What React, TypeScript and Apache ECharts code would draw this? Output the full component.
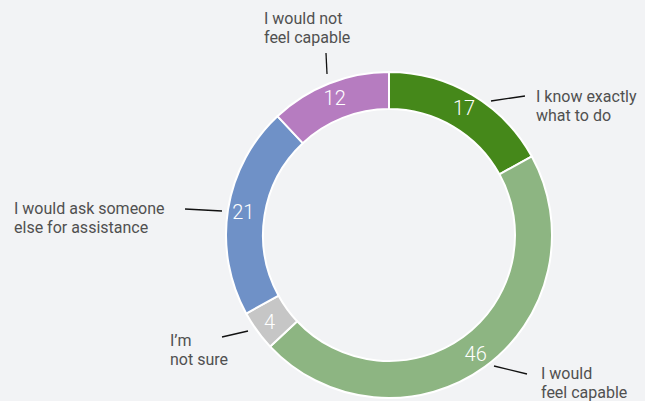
import React, { useEffect, useRef } from "react";
import * as echarts from "echarts";

const categories = [
  "I know exactly\nwhat to do",
  "I would\nfeel capable",
  "I’m\nnot sure",
  "I would ask someone\nelse for assistance",
  "I would not\nfeel capable",
];
const values = [17, 46, 4, 21, 12];
const colors = ["#45881a", "#8db582", "#c6c6c6", "#6f91c7", "#b67cc0"];

// label placement relative to the pie centre: line start, line end, text anchor
const labelSpecs = [
  { line: [[102, -134], [136, -139]], text: [147, -129] },
  { line: [[105, 131], [138, 139]], text: [152, 148] },
  { line: [[-141, 96], [-167, 102]], text: [-219, 115] },
  { line: [[-167, -24], [-204, -26]], text: [-375, -17] },
  { line: [[-62, -161], [-63, -182]], text: [-125, -207] },
];

const CX = 389;
const CY = 235;

export default function App() {
  const ref = useRef<HTMLDivElement>(null);
  useEffect(() => {
    if (!ref.current) return;
    const chart = echarts.init(ref.current, null, { renderer: "svg" });
    const data = categories.map((name, i) => ({
      name,
      value: values[i],
      itemStyle: { color: colors[i] },
    }));
    chart.setOption({
      animation: false,
      backgroundColor: "#f2f3f5",
      series: [
        {
          type: "pie",
          center: [CX, CY],
          radius: [126, 163],
          startAngle: 90,
          avoidLabelOverlap: false,
          itemStyle: { borderColor: "#ffffff", borderWidth: 2 },
          label: {
            show: true,
            position: "inside",
            formatter: "{c}",
            color: "#ffffff",
            fontFamily: "Roboto",
            fontWeight: 300,
            fontSize: 20,
          },
          labelLine: { show: false },
          data,
        },
        {
          type: "pie",
          center: [CX, CY],
          radius: [126, 163],
          startAngle: 90,
          silent: true,
          avoidLabelOverlap: false,
          itemStyle: { color: "rgba(0,0,0,0)" },
          label: {
            show: true,
            position: "outside",
            formatter: "{b}",
            color: "#505050",
            fontFamily: "Roboto",
            fontSize: 16,
            lineHeight: 19,
          },
          labelLine: {
            show: true,
            length: 10,
            length2: 0,
            lineStyle: { color: "#111111", width: 1.3 },
          },
          labelLayout: (params: any) => {
            const s = labelSpecs[params.dataIndex];
            return {
              x: CX + s.text[0],
              y: CY + s.text[1],
              align: "left",
              verticalAlign: "middle",
              labelLinePoints: [
                [CX + s.line[0][0], CY + s.line[0][1]],
                [CX + s.line[1][0], CY + s.line[1][1]],
              ],
            };
          },
          data: categories.map((name, i) => ({ name, value: values[i] })),
        },
      ],
    });
    return () => chart.dispose();
  }, []);
  return (
    <div
      ref={ref}
      style={{ position: "absolute", left: 0, top: 0, width: 645, height: 401 }}
    />
  );
}
